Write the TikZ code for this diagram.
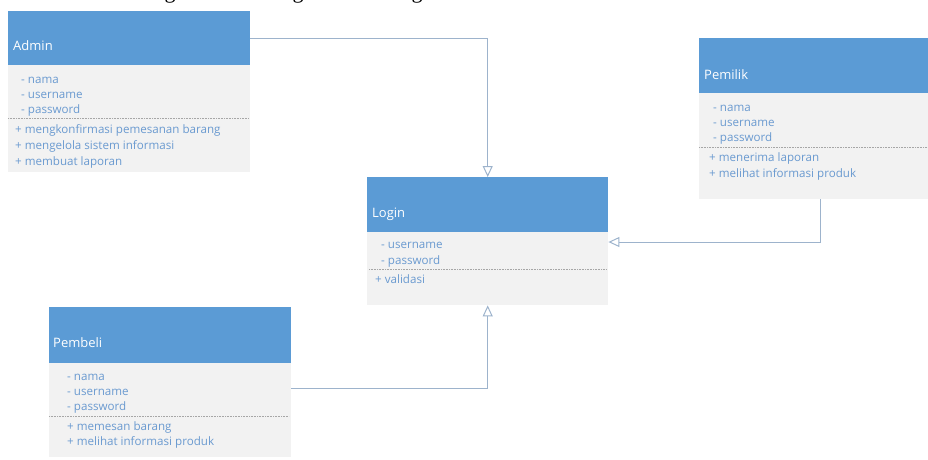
\documentclass[tikz,border=0pt]{standalone}
\usepackage{fontspec}
\setmainfont{Open Sans}
\newfontfamily\capfont{Liberation Serif}
\usetikzlibrary{arrows.meta}
\definecolor{hdr}{HTML}{5B9BD5}
\definecolor{bdy}{HTML}{F2F2F2}
\definecolor{txt}{HTML}{6A9AD0}
\definecolor{connc}{HTML}{9DB3CC}
\definecolor{sepc}{HTML}{A6A6A6}
\begin{document}
\begin{tikzpicture}[x=1pt,y=-1pt,
 hdrbox/.style={rectangle, fill=hdr, draw=none, anchor=north west, inner sep=0pt, minimum width=242pt},
 bodybox/.style={rectangle, fill=bdy, draw=none, anchor=north west, inner sep=0pt, minimum width=242pt},
 title/.style={anchor=base west, text=white, font=\fontsize{13}{15}\selectfont, inner sep=0pt},
 item/.style={anchor=base west, text=txt, font=\fontsize{11.6}{13}\selectfont, inner sep=0pt},
 sepline/.style={draw=sepc, densely dotted, line width=0.6pt},
 connline/.style={draw=connc, line width=1pt, -{Triangle[open, length=11pt, width=10pt]}},
 capg/.style={anchor=base, inner sep=0pt, font=\capfont\fontsize{22}{24}\selectfont},
]
\useasboundingbox (0,0) rectangle (928,459);
\clip (0,0) rectangle (928,459);

% fragments of a caption cut off at the top
\node[capg] (cap1) at (170,-1.5) {g};
\node[capg] (cap2) at (298,-1.5) {g};
\node[capg] (cap3) at (417,-1.5) {g};

% ---------- Admin ----------
\node[hdrbox, minimum height=54pt] (adminH) at (8,11) {};
\node[bodybox, minimum height=107pt] (adminB) at (8,65) {};
\node[title] (adminT) at (13,50) {Admin};
\node[item] (adminA1) at (21,83) {- nama};
\node[item] (adminA2) at (21,98) {- username};
\node[item] (adminA3) at (21,113) {- password};
\draw[sepline] (8,118) -- (249,118);
\node[item] (adminO1) at (15,133) {+ mengkonfirmasi pemesanan barang};
\node[item] (adminO2) at (15,149) {+ mengelola sistem informasi};
\node[item] (adminO3) at (15,165) {+ membuat laporan};

% ---------- Pemilik ----------
\node[hdrbox, minimum height=55pt] (pemilikH) at (699,38) {};
\node[bodybox, minimum height=106pt] (pemilikB) at (699,93) {};
\node[title] (pemilikT) at (704,79) {Pemilik};
\node[item] (pemilikA1) at (713,111) {- nama};
\node[item] (pemilikA2) at (713,126) {- username};
\node[item] (pemilikA3) at (713,141) {- password};
\draw[sepline] (699,147) -- (941,147);
\node[item] (pemilikO1) at (709,161) {+ menerima laporan};
\node[item] (pemilikO2) at (709,177) {+ melihat informasi produk};

% ---------- Login ----------
\node[hdrbox, minimum width=241pt, minimum height=55pt] (loginH) at (367,177) {};
\node[bodybox, minimum width=241pt, minimum height=73pt] (loginB) at (367,232) {};
\node[title] (loginT) at (372,217) {Login};
\node[item] (loginA1) at (381,248) {- username};
\node[item] (loginA2) at (381,264) {- password};
\draw[sepline] (369,269) -- (606,269);
\node[item] (loginO1) at (375,283) {+ validasi};

% ---------- Pembeli ----------
\node[hdrbox, minimum height=56pt] (pembeliH) at (49,307) {};
\node[bodybox, minimum height=94pt] (pembeliB) at (49,363) {};
\node[title] (pembeliT) at (53,347) {Pembeli};
\node[item] (pembeliA1) at (67,380) {- nama};
\node[item] (pembeliA2) at (67,395) {- username};
\node[item] (pembeliA3) at (67,410) {- password};
\draw[sepline] (49,416) -- (289,416);
\node[item] (pembeliO1) at (67,430) {+ memesan barang};
\node[item] (pembeliO2) at (67,445) {+ melihat informasi produk};

% ---------- connectors ----------
\draw[connline] (adminH.east) -| (loginH.north);
\draw[connline] (pembeliB.east |- 0,388) -| (loginB.south);
\coordinate (pemTip) at (loginB.east |- 0,242);
\draw[connline] (pemilikB.south) |- (pemTip);
\end{tikzpicture}
\end{document}
